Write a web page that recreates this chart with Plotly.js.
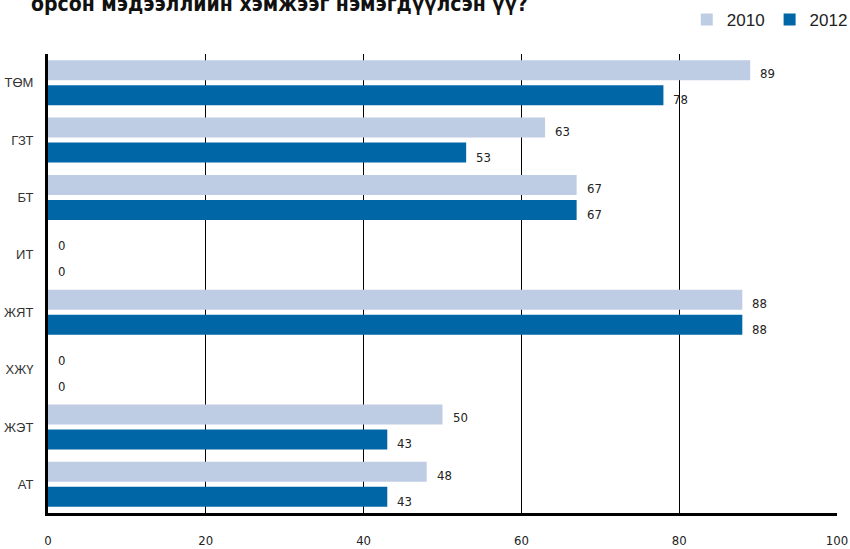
<!DOCTYPE html>
<html>
<head>
<meta charset="utf-8">
<script src="https://cdn.plot.ly/plotly-3.0.1.min.js"></script>
<style>html,body{margin:0;padding:0;background:#fff;}#chart{width:850px;height:549px;}</style>
</head>
<body>
<div id="chart"></div>
<script>
var categories = ["ТӨМ", "ГЗТ", "БТ", "ИТ", "ЖЯТ", "ХЖҮ", "ЖЭТ", "АТ"];
var values2010 = [89, 63, 67, 0, 88, 0, 50, 48];
var values2012 = [78, 53, 67, 0, 88, 0, 43, 43];
var seriesNames = ["2010", "2012"];
var xTicks = [0, 20, 40, 60, 80, 100];
var titleText = "орсон мэдээллийн хэмжээг нэмэгдүүлсэн үү?";

var condensed = "Liberation Sans Narrow, DejaVu Sans Condensed, Arial Narrow, sans-serif";

var traces = [
  {type: "bar", orientation: "h", name: seriesNames[0], y: categories, x: values2010,
   marker: {color: "#bfcde4"}, hoverinfo: "x"},
  {type: "bar", orientation: "h", name: seriesNames[1], y: categories, x: values2012,
   marker: {color: "#0066a6"}, hoverinfo: "x"}
];

var annotations = [];
categories.forEach(function (c, i) {
  annotations.push({x: values2010[i], y: c, xref: "x", yref: "y", text: String(values2010[i]),
    showarrow: false, xanchor: "left", yanchor: "middle", xshift: 8, yshift: 9,
    font: {family: condensed, size: 13, color: "#222"}});
  annotations.push({x: values2012[i], y: c, xref: "x", yref: "y", text: String(values2012[i]),
    showarrow: false, xanchor: "left", yanchor: "middle", xshift: 8, yshift: -17,
    font: {family: condensed, size: 13, color: "#222"}});
});
annotations.push({x: 0, y: 1, xref: "paper", yref: "paper", xanchor: "left", yanchor: "bottom",
  xshift: -19, yshift: 36, text: "<b>" + titleText + "</b>", showarrow: false,
  font: {family: condensed, size: 21, color: "#111"}});

var layout = {
  width: 850, height: 549,
  margin: {l: 48, r: 13, t: 54, b: 36, autoexpand: false},
  paper_bgcolor: "#fff", plot_bgcolor: "#fff",
  barmode: "group", bargap: 0.127, bargroupgap: 0.2,
  showlegend: true,
  legend: {orientation: "h", x: 1.02, xanchor: "right", y: 1.074, yanchor: "middle",
    font: {family: "Liberation Sans, Arial, sans-serif", size: 17, color: "#222"},
    traceorder: "normal", itemwidth: 30},
  xaxis: {range: [0, 100], tickvals: xTicks, ticktext: xTicks.map(String),
    showgrid: true, gridcolor: "#000", gridwidth: 1, zeroline: false,
    showline: true, linecolor: "#000", linewidth: 3, ticks: "", ticklabelstandoff: 13,
    tickfont: {family: condensed, size: 13, color: "#222"}, fixedrange: true, automargin: false},
  yaxis: {range: [7.5, -0.5], autorange: false, showgrid: false, zeroline: false,
    showline: true, linecolor: "#000", linewidth: 3, ticks: "", ticklabelstandoff: 9,
    tickfont: {family: "Liberation Sans, Arial, sans-serif", size: 13, color: "#333"}, fixedrange: true, automargin: false},
  annotations: annotations
};

Plotly.newPlot("chart", traces, layout, {displayModeBar: false, staticPlot: true});
</script>
</body>
</html>
